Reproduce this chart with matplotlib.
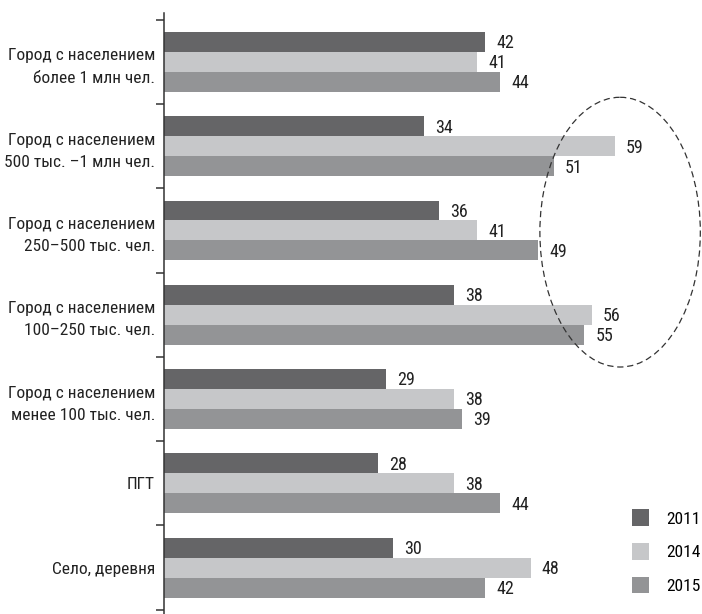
import numpy as np
import matplotlib.pyplot as plt
from matplotlib.patches import Ellipse, Patch

categories = [
    'Город с населением\nболее 1 млн чел.',
    'Город с населением\n500 тыс. –1 млн чел.',
    'Город с населением\n250–500 тыс. чел.',
    'Город с населением\n100–250 тыс. чел.',
    'Город с населением\nменее 100 тыс. чел.',
    'ПГТ',
    'Село, деревня',
]
years = ['2011', '2014', '2015']
v2011 = [42, 34, 36, 38, 29, 28, 30]
v2014 = [41, 59, 41, 56, 38, 38, 48]
v2015 = [44, 51, 49, 55, 39, 44, 42]
colors = ['#656567', '#c6c7c9', '#939496']

plt.rcParams['font.family'] = ['Roboto Condensed', 'PT Sans Narrow', 'DejaVu Sans']

fig = plt.figure(figsize=(7.02, 6.14), dpi=100)
ax = fig.add_axes([164 / 702, 0, 536 / 702, 1 - 13 / 614])

y = np.arange(len(categories))
h = 0.237
for i, (vals, col) in enumerate(zip([v2011, v2014, v2015], colors)):
    pos = y + (i - 1) * h
    ax.barh(pos, vals, height=h, color=col, zorder=2)
    for p, v in zip(pos, vals):
        ax.annotate(str(v), (v, p), xytext=(8, -1), textcoords='offset points',
                    va='center', ha='left', fontsize=13, color='#222222')

ax.set_xlim(0, 536 / 7.64)
ax.set_ylim(len(categories) - 1 + 0.55, -0.58)

ax.set_yticks(np.arange(-1, len(categories)) + 0.5)
ax.set_yticklabels([])
ax.tick_params(axis='y', length=6, width=1.1, color='#333333', direction='out')
ax.set_yticks(y, minor=True)
ax.set_yticklabels(categories, minor=True, fontsize=12.5, color='#222222',
                   linespacing=1.6)
ax.tick_params(axis='y', which='minor', length=0, pad=6.5)
ax.set_xticks([])
for s in ['top', 'right', 'bottom']:
    ax.spines[s].set_visible(False)
ax.spines['left'].set_color('#333333')
ax.spines['left'].set_linewidth(1.1)

ell = Ellipse((59.7, 2.02), 21, 3.2, fill=False, linestyle=(0, (5, 3)),
              edgecolor='#333333', linewidth=0.9, clip_on=False, zorder=3)
ax.add_patch(ell)

handles = [Patch(facecolor=c, edgecolor='none') for c in colors]
fig.legend(handles, years, loc='lower right', bbox_to_anchor=(701 / 702, 20 / 614),
           frameon=False, fontsize=12.5, handlelength=1.0, handleheight=1.1,
           labelspacing=0.95, handletextpad=1.0, borderpad=0, borderaxespad=0)

fig.savefig('out.png', dpi=100)
